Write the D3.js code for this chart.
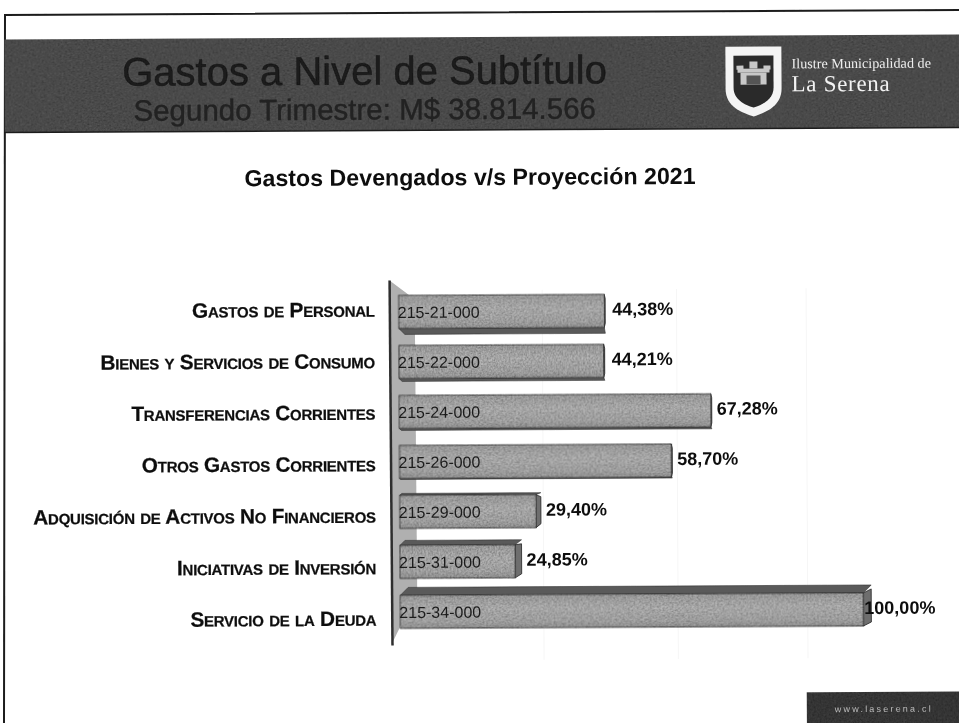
<!DOCTYPE html>
<html>
<head>
<meta charset="utf-8">
<script src="https://cdn.jsdelivr.net/npm/d3@7"></script>
<style>
	html, body { margin: 0; padding: 0; background: #fff; overflow: hidden; }
	svg { display: block; font-family: "Liberation Sans", Arial, sans-serif; }
	.cat-axis text { font-size: 20.8px; letter-spacing: -.25px; font-weight: bold; font-variant: small-caps; fill: #111; stroke: #111; stroke-width: .25px; }
	.cat-axis .domain { display: none; }
</style>
</head>
<body>
<div id="barChart"></div>
<script>
"use strict";

// Chart data
var categories = [
	"Gastos de Personal",
	"Bienes y Servicios de Consumo",
	"Transferencias Corrientes",
	"Otros Gastos Corrientes",
	"Adquisición de Activos No Financieros",
	"Iniciativas de Inversión",
	"Servicio de la Deuda"
];
var codes = ["215-21-000", "215-22-000", "215-24-000", "215-26-000", "215-29-000", "215-31-000", "215-34-000"];
var values = [44.38, 44.21, 67.28, 58.70, 29.40, 24.85, 100.00];
var gridTicks = [31, 60, 88];

var width = 959,
	height = 723;

var svg = d3.select("#barChart").append("svg")
	.attr("width", width)
	.attr("height", height);

var defs = svg.append("defs");

// Scanner grain for the dark bands and the bars
var grain = defs.append("filter").attr("id", "grain")
	.attr("x", -0.02).attr("y", -0.05).attr("width", 1.04).attr("height", 1.1);
grain.append("feTurbulence")
	.attr("type", "fractalNoise").attr("baseFrequency", 0.55)
	.attr("numOctaves", 3).attr("seed", 4).attr("result", "n");
grain.append("feColorMatrix").attr("in", "n").attr("type", "matrix")
	.attr("values", "0 0 0 0 0  0 0 0 0 0  0 0 0 0 0  0.9 0 0 0 -0.22")
	.attr("result", "d");
grain.append("feComposite").attr("in", "d").attr("in2", "SourceGraphic").attr("operator", "in").attr("result", "c");
grain.append("feMerge").selectAll("feMergeNode")
	.data(["SourceGraphic", "c"]).enter().append("feMergeNode")
	.attr("in", function (d) { return d; });

// Soft focus of the photocopy
defs.append("filter").attr("id", "soft")
	.attr("filterUnits", "userSpaceOnUse")
	.attr("x", 0).attr("y", 0).attr("width", width).attr("height", height)
	.append("feGaussianBlur").attr("stdDeviation", 0.55);

var faceGrad = defs.append("linearGradient").attr("id", "face")
	.attr("x1", 0).attr("y1", 0).attr("x2", 0).attr("y2", 1);
faceGrad.selectAll("stop")
	.data([[0, "#a8a8a8"], [0.4, "#bababa"], [0.8, "#b0b0b0"], [1, "#9e9e9e"]])
	.enter().append("stop")
	.attr("offset", function (d) { return d[0]; })
	.attr("stop-color", function (d) { return d[1]; });

var root = svg.append("g").attr("filter", "url(#soft)");

// Page frame of the scanned sheet
root.append("path")
	.attr("d", "M4,723 L5,15 L959,10")
	.attr("fill", "none").attr("stroke", "#1c1c1c").attr("stroke-width", 2);

// The sheet sits slightly rotated
var page = root.append("g").attr("transform", "rotate(-0.3 480 360)");

// Header band
page.append("rect")
	.attr("x", 6).attr("y", 37).attr("width", 960).attr("height", 93)
	.attr("fill", "#555").attr("filter", "url(#grain)");
page.append("line")
	.attr("x1", 6).attr("x2", 966).attr("y1", 130).attr("y2", 130)
	.attr("stroke", "#1e1e1e").attr("stroke-width", 1.5);

page.append("text")
	.attr("x", 366).attr("y", 84)
	.attr("text-anchor", "middle")
	.attr("font-size", 40).attr("fill", "#1a1a1a")
	.attr("stroke", "#1a1a1a").attr("stroke-width", .5)
	.text("Gastos a Nivel de Subtítulo");
page.append("text")
	.attr("x", 366).attr("y", 119)
	.attr("text-anchor", "middle")
	.attr("font-size", 29.5).attr("fill", "#222")
	.attr("stroke", "#222").attr("stroke-width", .4)
	.text("Segundo Trimestre: M$ 38.814.566");

// Municipal logo
var logo = page.append("g").attr("transform", "translate(727,48)");
logo.append("path")
	.attr("d", "M0,0 H56 V42 C56,60 40,66 28,70 C16,66 0,60 0,42 Z")
	.attr("fill", "#f4f4f4");
logo.append("path")
	.attr("d", "M8,9 H48 V41 C48,53 37,58 28,61 C19,58 8,53 8,41 Z")
	.attr("fill", "#2a2a2a");
logo.selectAll("rect.castle")
	.data([[24, 15, 8, 7], [12, 22, 32, 4], [15, 26, 26, 12], [11, 19, 7, 4], [38, 19, 7, 4]])
	.enter().append("rect")
	.attr("class", "castle")
	.attr("x", function (d) { return d[0]; })
	.attr("y", function (d) { return d[1]; })
	.attr("width", function (d) { return d[2]; })
	.attr("height", function (d) { return d[3]; })
	.attr("fill", "#c8c8c8");
logo.append("rect")
	.attr("x", 21).attr("y", 29).attr("width", 14).attr("height", 9).attr("fill", "#555");

page.append("text")
	.attr("x", 793).attr("y", 70)
	.attr("font-family", "'Liberation Serif', serif")
	.attr("font-size", 14.2).attr("fill", "#eee")
	.text("Ilustre Municipalidad de");
page.append("text")
	.attr("x", 793).attr("y", 93)
	.attr("font-family", "'Liberation Serif', serif")
	.attr("font-size", 23).attr("letter-spacing", 0.7).attr("fill", "#f2f2f2")
	.text("La Serena");

// Chart title
page.append("text")
	.attr("x", 471).attr("y", 185)
	.attr("text-anchor", "middle")
	.attr("font-size", 23.2).attr("font-weight", "bold").attr("fill", "#111")
	.text("Gastos Devengados v/s Proyección 2021");

// Scales
var x = d3.scaleLinear().domain([0, 100]).range([399, 862]);

var y = d3.scaleBand()
	.domain(categories)
	.range([295, 628])
	.paddingInner(.34);

// Category labels sit on a wider spacing than the bars in the original
var yLabels = d3.scalePoint()
	.domain(categories)
	.range([309, 618]);

// Perspective of the 3d bars: depth below (+) or above (-) and side width
var depthY = d3.scaleLinear().domain([0, 1, 3, 6]).range([6, 3, 1, -8]);
var depthX = d3.scaleLinear().domain([3, 4, 6]).range([1, 5, 8]).clamp(true);

// Faint grid
page.append("g").selectAll("line")
	.data(gridTicks)
	.enter().append("line")
	.attr("x1", function (d) { return x(d); })
	.attr("x2", function (d) { return x(d); })
	.attr("y1", 290)
	.attr("y2", 660)
	.attr("stroke", "#f6f6f6");

// Back wall
page.append("path")
	.attr("d", "M390,280 L415,299 L416,592 L391,642 Z")
	.attr("fill", "#b0b0b0");
page.append("line")
	.attr("x1", 390).attr("y1", 280)
	.attr("x2", 391).attr("y2", 645)
	.attr("stroke", "#2e2e2e").attr("stroke-width", 2.5);

// Bars
var bars = page.append("g").selectAll("g")
	.data(values)
	.enter().append("g");

// Top or underside of each bar
bars.append("path")
	.attr("d", function (d, i) {
		var dy = depthY(i),
			edge = dy > 0 ? y(categories[i]) + y.bandwidth() : y(categories[i]);
		return "M" + x(0) + "," + edge +
			" L" + (x(0) + Math.abs(dy)) + "," + (edge + dy) +
			" H" + (x(d) + depthX(i)) +
			" L" + x(d) + "," + edge + " Z";
	})
	.attr("fill", "#5a5a5a")
	.attr("stroke", "#333")
	.attr("stroke-width", .6);

// Right side of each bar
bars.append("path")
	.attr("d", function (d, i) {
		var top = y(categories[i]),
			dy = depthY(i),
			dx = depthX(i);
		return "M" + x(d) + "," + top +
			" L" + (x(d) + dx) + "," + (top + Math.min(dy, 0) + 4) +
			" V" + (top + y.bandwidth() - 4) +
			" L" + x(d) + "," + (top + y.bandwidth()) + " Z";
	})
	.attr("fill", "#6e6e6e")
	.attr("stroke", "#222")
	.attr("stroke-width", .8);

// Front face
bars.append("rect")
	.attr("x", x(0))
	.attr("y", function (d, i) { return y(categories[i]); })
	.attr("width", function (d) { return x(d) - x(0); })
	.attr("height", y.bandwidth())
	.attr("fill", "url(#face)")
	.attr("stroke", "#3a3a3a")
	.attr("stroke-width", .8)
	.attr("filter", "url(#grain)");

// Codes inside the bars
bars.append("text")
	.attr("x", x(0) - 1)
	.attr("y", function (d, i) { return y(categories[i]) + y.bandwidth() / 2; })
	.attr("dy", ".38em")
	.attr("font-size", 16)
	.attr("fill", "#1c1c1c")
	.text(function (d, i) { return codes[i]; });

// Value labels
bars.append("text")
	.attr("x", function (d, i) { return x(d) + depthX(i) + (d === 100 ? -7 : i < 2 ? 7 : 5); })
	.attr("y", function (d, i) { return y(categories[i]) + y.bandwidth() / 2 - 2; })
	.attr("dy", ".36em")
	.attr("font-size", 18)
	.attr("font-weight", "bold")
	.attr("fill", "#111")
	.text(function (d) { return d3.format(".2f")(d).replace(".", ",") + "%"; });

// Category axis
page.append("g")
	.attr("class", "cat-axis")
	.attr("transform", "translate(381,0)")
	.call(d3.axisLeft(yLabels).tickSize(0).tickPadding(6));

// Footer tag
page.append("rect")
	.attr("x", 805).attr("y", 694).attr("width", 170).attr("height", 40)
	.attr("fill", "#3e3e3e").attr("filter", "url(#grain)");
page.append("text")
	.attr("x", 833).attr("y", 714)
	.attr("font-size", 9).attr("letter-spacing", 2.2).attr("fill", "#bdbdbd")
	.text("www.laserena.cl");
</script>
</body>
</html>
